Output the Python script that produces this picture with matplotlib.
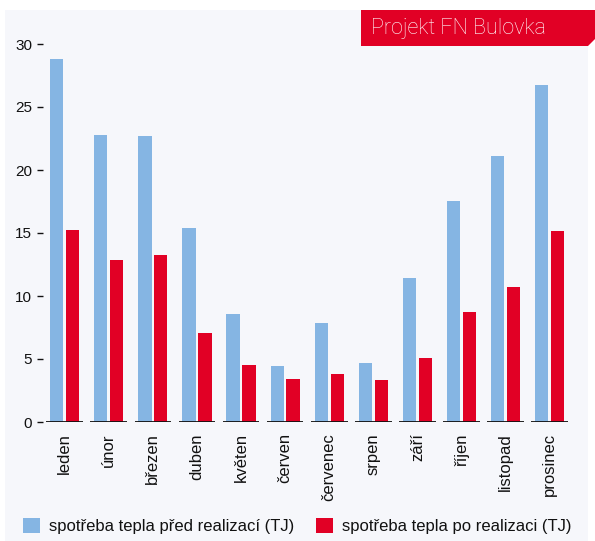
import matplotlib.pyplot as plt
import numpy as np
from matplotlib.patches import Polygon, Rectangle

months = ['leden', 'únor', 'březen', 'duben', 'květen', 'červen',
          'červenec', 'srpen', 'září', 'říjen', 'listopad', 'prosinec']
before = [28.8, 22.8, 22.7, 15.4, 8.6, 4.45, 7.85, 4.7, 11.45, 17.55, 21.1, 26.75]
after = [15.25, 12.85, 13.25, 7.05, 4.5, 3.4, 3.8, 3.35, 5.1, 8.75, 10.7, 15.15]
label_before = 'spotřeba tepla před realizací (TJ)'
label_after = 'spotřeba tepla po realizaci (TJ)'
title = 'Projekt FN Bulovka'

blue = '#85b5e3'
red = '#e10025'
panel = '#f6f7fb'

plt.rcParams['font.family'] = ['Liberation Sans', 'DejaVu Sans']

W, H = 595, 541
fig = plt.figure(figsize=(W / 100, H / 100), dpi=100)
fig.patch.set_facecolor('white')

# light panel behind the chart
fig.patches.append(Rectangle((5 / W, 0), 583 / W, (H - 10) / H,
                             transform=fig.transFigure, facecolor=panel,
                             edgecolor='none', zorder=-2))

# red title banner with cut corner
pts = [(361, 10), (595, 10), (595, 39), (588, 46), (361, 46)]
pts = [(x / W, 1 - y / H) for x, y in pts]
fig.patches.append(Polygon(pts, closed=True, transform=fig.transFigure,
                           facecolor=red, edgecolor='none', zorder=1))
fig.text(371 / W, 1 - 28.5 / H, title, color='white', fontsize=15.5,
         family=['Roboto', 'DejaVu Sans'], fontweight='light',
         ha='left', va='center', zorder=2)

ax = fig.add_axes([42.6 / W, (H - 422) / H, 529.2 / W, 378 / H])
ax.set_facecolor('none')

x = np.arange(len(months))
bw = 0.30
ax.bar(x - 0.18, before, bw, color=blue, label=label_before, zorder=2)
ax.bar(x + 0.18, after, bw, color=red, label=label_after, zorder=2)
ax.hlines(np.zeros(len(x)), x - 0.415, x + 0.415, color='#111111', lw=1.3, zorder=3)

ax.set_xlim(-0.5, 11.5)
ax.set_ylim(0, 30)
ax.set_yticks([0, 5, 10, 15, 20, 25, 30])
ax.set_xticks(x)
ax.set_xticklabels(months, rotation=90, fontsize=12, color='#111111')
ax.tick_params(axis='x', length=0, pad=8)
ax.tick_params(axis='y', length=4.5, width=1.0, pad=3, labelsize=11,
               color='#111111', labelcolor='#111111')
for s in ax.spines.values():
    s.set_visible(False)

leg = fig.legend(loc='lower left', bbox_to_anchor=(22.5 / W, 7 / H), ncol=2,
                 frameon=False, fontsize=12, handlelength=1.02, handleheight=1.02,
                 handletextpad=0.55, columnspacing=1.3, borderpad=0,
                 borderaxespad=0)
for t in leg.get_texts():
    t.set_color('#111111')

fig.savefig('out.png', dpi=100)
